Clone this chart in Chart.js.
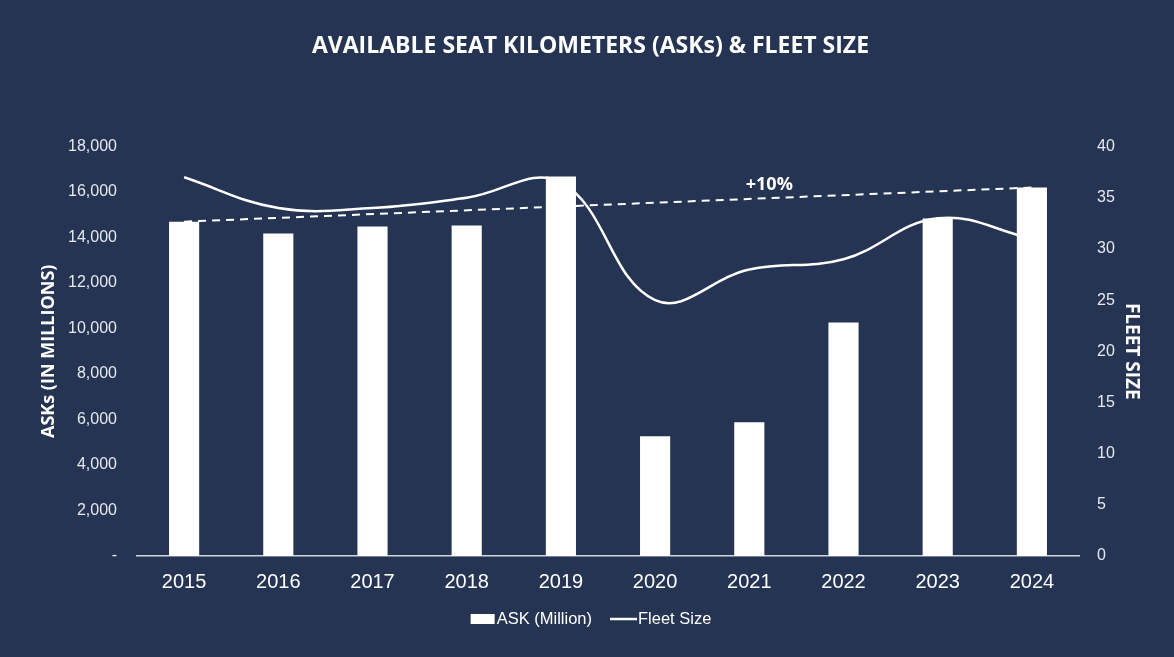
<!DOCTYPE html>
<html>
<head>
<meta charset="utf-8">
<script src="https://cdn.jsdelivr.net/npm/chart.js@4.4.1/dist/chart.umd.min.js"></script>
<style>
  html, body { margin: 0; padding: 0; background: #253452; }
  #wrap { width: 1174px; height: 657px; }
</style>
</head>
<body>
<div id="wrap"><canvas id="chart"></canvas></div>
<script>
// data
const years = ['2015', '2016', '2017', '2018', '2019', '2020', '2021', '2022', '2023', '2024']
const askMillion = [14700, 14180, 14490, 14530, 16680, 5270, 5880, 10270, 14840, 16200]
const fleetSize = [37, 34, 34, 35, 36.5, 25, 28, 29, 33, 31]
// dashed growth line: first and last ASK values
const askTrend = [14700, null, null, null, null, null, null, null, null, 16200]
const trendLabel = '+10%'

const textColor = '#ffffff'
const tickColor = '#e6e8ee'

const growthLabel = {
  id: 'growthLabel',
  afterDatasetsDraw(chart) {
    const { ctx, scales } = chart
    const x = scales.x.getPixelForValue(6) + 20
    const y = scales.y.getPixelForValue(16330)
    ctx.save()
    ctx.font = 'bold 18px "Open Sans", sans-serif'
    ctx.fillStyle = textColor
    ctx.textAlign = 'center'
    ctx.textBaseline = 'middle'
    ctx.fillText(trendLabel, x, y)
    ctx.restore()
  }
}

// excel style legend: swatch tight against its text
const bottomLegend = {
  id: 'bottomLegend',
  afterDraw(chart) {
    const { ctx } = chart
    const names = [chart.data.datasets[0].label, chart.data.datasets[1].label]
    ctx.save()
    ctx.font = '16.5px "Liberation Sans", sans-serif'
    const w0 = ctx.measureText(names[0]).width
    const w1 = ctx.measureText(names[1]).width
    const total = 24 + 2 + w0 + 18 + 27 + 1 + w1
    let x = chart.width / 2 + 4 - total / 2
    const y = 619
    ctx.fillStyle = '#ffffff'
    ctx.fillRect(x, y - 5, 24, 10)
    x += 26
    ctx.textBaseline = 'middle'
    ctx.fillText(names[0], x, y)
    x += w0 + 18
    ctx.strokeStyle = '#ffffff'
    ctx.lineWidth = 2.5
    ctx.beginPath()
    ctx.moveTo(x, y)
    ctx.lineTo(x + 27, y)
    ctx.stroke()
    x += 28
    ctx.fillText(names[1], x, y)
    ctx.restore()
  }
}

new Chart(document.getElementById('chart'), {
  type: 'bar',
  data: {
    labels: years,
    datasets: [
      {
        label: 'ASK (Million)',
        data: askMillion,
        backgroundColor: '#ffffff',
        yAxisID: 'y',
        barPercentage: 0.32,
        categoryPercentage: 1,
        order: 1
      },
      {
        type: 'line',
        label: 'Fleet Size',
        data: fleetSize,
        borderColor: '#ffffff',
        backgroundColor: '#ffffff',
        borderWidth: 2.5,
        pointRadius: 0,
        tension: 0.4,
        yAxisID: 'y1',
        order: 2
      },
      {
        type: 'line',
        label: 'trend',
        data: askTrend,
        borderColor: '#ffffff',
        borderWidth: 2,
        borderDash: [8, 6],
        pointRadius: 0,
        spanGaps: true,
        yAxisID: 'y',
        order: 3
      }
    ]
  },
  options: {
    responsive: true,
    maintainAspectRatio: false,
    animation: false,
    layout: { padding: { left: 38, right: 31, top: 0, bottom: 49 } },
    plugins: {
      title: {
        display: true,
        text: 'AVAILABLE SEAT KILOMETERS (ASKs) & FLEET SIZE',
        color: textColor,
        font: { family: 'Open Sans', size: 23, weight: 'bold' },
        padding: { top: 33, bottom: 86 }
      },
      legend: { display: false },
      tooltip: { enabled: false }
    },
    scales: {
      x: {
        grid: { display: false, drawTicks: false },
        border: { display: true, color: '#d0d4dc', width: 1.5 },
        ticks: {
          color: textColor,
          padding: 14,
          font: { family: 'Liberation Sans', size: 20 }
        }
      },
      y: {
        position: 'left',
        min: 0,
        max: 18000,
        grid: { display: false, drawTicks: false },
        border: { display: false },
        afterFit(scale) { scale.width = 99 },
        ticks: {
          stepSize: 2000,
          color: tickColor,
          padding: 20,
          font: { family: 'Liberation Sans', size: 16 },
          callback: v => v === 0 ? '-' : v.toLocaleString('en-US')
        },
        title: {
          display: true,
          text: 'ASKs (IN MILLIONS)',
          color: textColor,
          font: { family: 'Open Sans', size: 18, weight: 'bold' },
          padding: 0
        }
      },
      y1: {
        position: 'right',
        min: 0,
        max: 40,
        grid: { display: false, drawTicks: false },
        border: { display: false },
        afterFit(scale) { scale.width = 64 },
        ticks: {
          stepSize: 5,
          color: tickColor,
          padding: 18,
          font: { family: 'Liberation Sans', size: 16 }
        },
        title: {
          display: true,
          text: 'FLEET SIZE',
          color: textColor,
          font: { family: 'Open Sans', size: 19, weight: 'bold' },
          padding: 0
        }
      }
    }
  },
  plugins: [growthLabel, bottomLegend]
})
</script>
</body>
</html>
